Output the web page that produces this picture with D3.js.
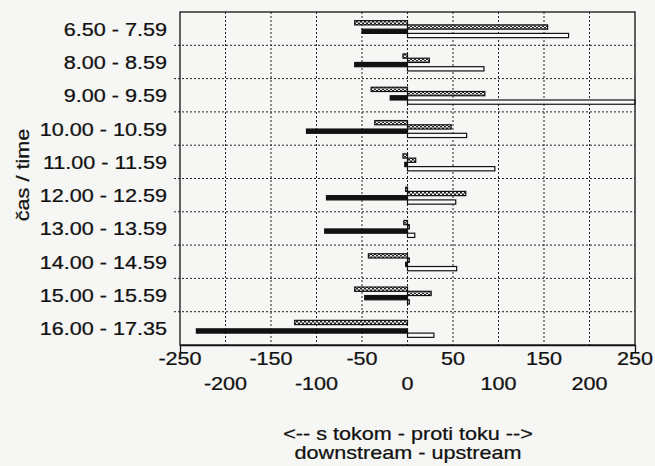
<!DOCTYPE html>
<html>
<head>
<meta charset="utf-8">
<script src="https://cdnjs.cloudflare.com/ajax/libs/d3/7.8.5/d3.min.js"></script>
<style>
  body { margin: 0; background: #f6f6f4; }
  text { font-family: "Liberation Sans", Arial, sans-serif; fill: #111; stroke: #111; stroke-width: 0.25px; }
</style>
</head>
<body>
<div id="chart"></div>
<script>
var w = 655;
var h = 466;

// time periods, top to bottom
var periods = ["6.50 - 7.59", "8.00 - 8.59", "9.00 - 9.59", "10.00 - 10.59", "11.00 - 11.59",
  "12.00 - 12.59", "13.00 - 13.59", "14.00 - 14.59", "15.00 - 15.59", "16.00 - 17.35"];

// four series per period (hatched down/up, black down, white up)
var seriesKeys = ["hatchDown", "hatchUp", "blackDown", "whiteUp"];
var hatchDown = [-58, -5, -40, -36, -5, -2, -4, -43, -58, -124];
var hatchUp   = [154, 24, 85, 48, 9, 64, 2, 2, 26, 0];
var blackDown = [-50, -58, -19, -111, -3, -89, -91, -2, -47, -232];
var whiteUp   = [177, 84, 250, 65, 96, 53, 8, 54, 2, 29];

var ticksRow1 = [-250, -150, -50, 50, 150, 250];
var ticksRow2 = [-200, -100, 0, 100, 200];

var margin = {top: 12, right: 20, bottom: 121, left: 180};
var sx = 1.2; // scanned type is set wide

var svg = d3.select("#chart").append("svg")
  .attr("width", w)
  .attr("height", h);

var defs = svg.append("defs");
var pat = defs.append("pattern")
  .attr("id", "hatch")
  .attr("patternUnits", "userSpaceOnUse")
  .attr("width", 4)
  .attr("height", 3);
pat.append("rect").attr("width", 4).attr("height", 3).attr("fill", "#f0f0f0");
pat.append("rect").attr("x", 0).attr("y", 0).attr("width", 2).attr("height", 1.5).attr("fill", "#222");
pat.append("rect").attr("x", 2).attr("y", 1.5).attr("width", 2).attr("height", 1.5).attr("fill", "#222");

var x = d3.scaleLinear()
  .domain([-250, 250])
  .range([margin.left, w - margin.right]);

var y = d3.scaleBand()
  .domain(periods)
  .range([margin.top, h - margin.bottom]);

var bw = y.bandwidth();
var inner = d3.scaleBand()
  .domain(seriesKeys)
  .range([bw / 2 - 8, bw / 2 + 9]);

var fills = {hatchDown: "url(#hatch)", hatchUp: "url(#hatch)", blackDown: "#111", whiteUp: "#fafafa"};

//grid
var grid = svg.append("g")
  .attr("stroke", "#222")
  .attr("stroke-width", 1)
  .attr("stroke-dasharray", "2,2");

grid.selectAll(".vgrid")
    .data(d3.range(-200, 250, 50))
  .enter().append("line")
    .attr("x1", function(d) { return x(d); })
    .attr("x2", function(d) { return x(d); })
    .attr("y1", margin.top)
    .attr("y2", h - margin.bottom);

grid.selectAll(".hgrid")
    .data(periods.slice(1))
  .enter().append("line")
    .attr("x1", margin.left - 6)
    .attr("x2", w - margin.right)
    .attr("y1", function(d) { return y(d); })
    .attr("y2", function(d) { return y(d); });

//bars
var rows = [];
periods.forEach(function(p, i) {
  rows.push({p: p, key: "hatchDown", v: hatchDown[i]});
  rows.push({p: p, key: "hatchUp", v: hatchUp[i]});
  rows.push({p: p, key: "blackDown", v: blackDown[i]});
  rows.push({p: p, key: "whiteUp", v: whiteUp[i]});
});

svg.selectAll(".bar")
    .data(rows)
  .enter().append("rect")
    .attr("class", "bar")
    .attr("x", function(d) { return x(Math.min(0, d.v)); })
    .attr("width", function(d) { return Math.abs(x(d.v) - x(0)); })
    .attr("y", function(d) { return y(d.p) + inner(d.key); })
    .attr("height", inner.bandwidth())
    .attr("fill", function(d) { return fills[d.key]; })
    .attr("stroke", "#111")
    .attr("stroke-width", 1.2);

//frame
svg.append("rect")
  .attr("x", margin.left)
  .attr("y", margin.top)
  .attr("width", x(250) - x(-250))
  .attr("height", h - margin.bottom - margin.top)
  .attr("fill", "none")
  .attr("stroke", "#111")
  .attr("stroke-width", 1.3);

var axis = svg.append("g")
  .attr("transform", "translate(0," + (h - margin.bottom) + ")")
  .call(d3.axisBottom(x).tickValues([]).tickSizeInner(0).tickSizeOuter(7));
axis.select(".domain").attr("stroke", "#111").attr("stroke-width", 1.3);

function wideText(g, tx, ty, s, anchor) {
  return g.append("text")
    .attr("transform", "translate(" + tx + "," + ty + ") scale(" + sx + ",1)")
    .attr("text-anchor", anchor)
    .attr("font-size", 18)
    .text(s);
}

//labels
periods.forEach(function(p) {
  wideText(svg, 167, y(p) + bw / 2 + 7, p, "end");
});
ticksRow1.forEach(function(t) {
  wideText(svg, x(t), 365, t, "middle");
});
ticksRow2.forEach(function(t) {
  wideText(svg, x(t), 390, t, "middle");
});
wideText(svg, 408, 440, "<-- s tokom - proti toku -->", "middle");
wideText(svg, 408, 459, "downstream - upstream", "middle");

svg.append("text")
  .attr("transform", "translate(29,175) rotate(-90) scale(" + sx + ",1)")
  .attr("text-anchor", "middle")
  .attr("font-size", 18)
  .text("čas / time");
</script>
</body>
</html>
